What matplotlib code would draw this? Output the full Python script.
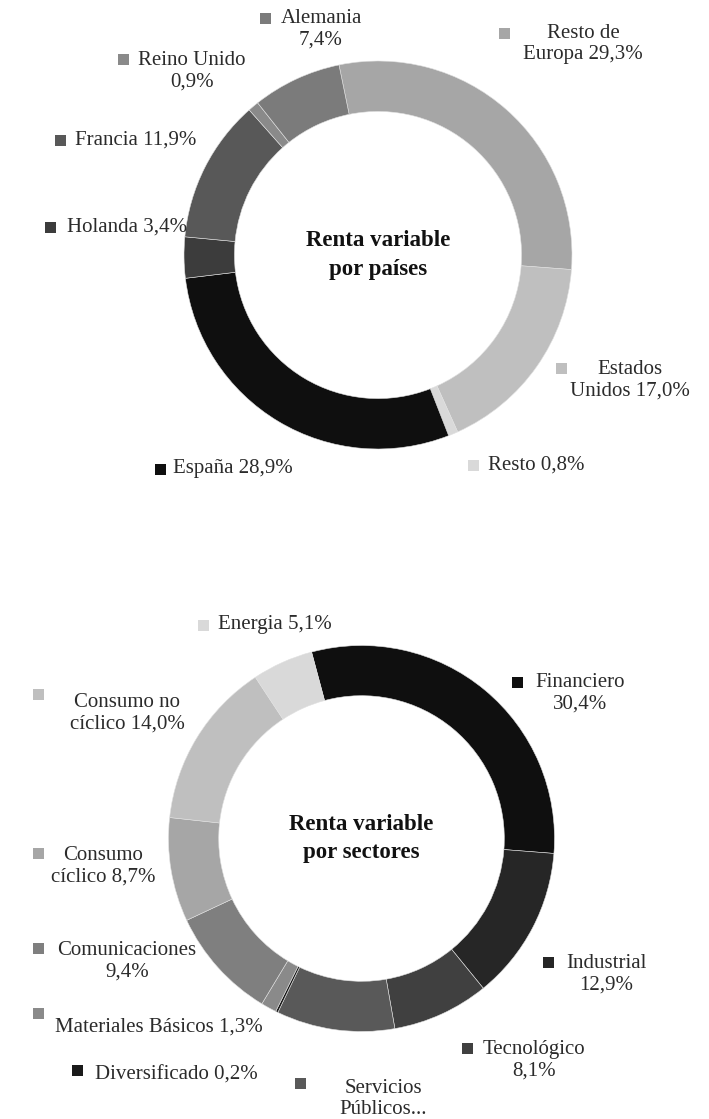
import matplotlib.pyplot as plt
from matplotlib.patches import Rectangle

plt.rcParams['font.family'] = ['Liberation Serif', 'DejaVu Serif']

# --- data: equity by country (clockwise from the top) ---
countries = ["Resto de Europa", "Estados Unidos", "Resto", "España",
             "Holanda", "Francia", "Reino Unido", "Alemania"]
country_values = [29.3, 17.0, 0.8, 28.9, 3.4, 11.9, 0.9, 7.4]
country_labels = ["Resto de\nEuropa 29,3%", "Estados\nUnidos 17,0%", "Resto 0,8%",
                  "España 28,9%", "Holanda 3,4%", "Francia 11,9%",
                  "Reino Unido\n0,9%", "Alemania\n7,4%"]
country_colors = ["#a6a6a6", "#bfbfbf", "#d9d9d9", "#0f0f0f",
                  "#3c3c3c", "#585858", "#8a8a8a", "#7b7b7b"]

# --- data: equity by sector (clockwise from the top) ---
sectors = ["Financiero", "Industrial", "Tecnológico", "Servicios Públicos",
           "Diversificado", "Materiales Básicos", "Comunicaciones",
           "Consumo cíclico", "Consumo no cíclico", "Energia"]
sector_values = [30.4, 12.9, 8.1, 9.9, 0.2, 1.3, 9.4, 8.7, 14.0, 5.1]
sector_labels = ["Financiero\n30,4%", "Industrial\n12,9%", "Tecnológico\n8,1%",
                 "Servicios\nPúblicos...", "Diversificado 0,2%",
                 "Materiales Básicos 1,3%", "Comunicaciones\n9,4%",
                 "Consumo\ncíclico 8,7%", "Consumo no\ncíclico 14,0%",
                 "Energia 5,1%"]
sector_colors = ["#0f0f0f", "#262626", "#404040", "#595959", "#1a1a1a",
                 "#8a8a8a", "#7f7f7f", "#a6a6a6", "#bfbfbf", "#d9d9d9"]

# label layout in pixels: (marker x, marker y, text x, text y, ha)
country_pos = [(504, 33, 583, 44, "center"), (561, 368, 630, 380, "center"),
               (473, 465, 488, 465, "left"), (160, 469, 173, 469, "left"),
               (50, 227, 67, 227, "left"), (60, 140, 75, 140, "left"),
               (123, 59, 192, 71, "center"), (265, 18, 321, 29, "center")]
sector_pos = [(517, 682, 580, 693, "center"), (548, 962, 606, 974, "center"),
              (467, 1048, 534, 1060, "center"), (300, 1083, 383, 1099, "center"),
              (77, 1070, 95, 1075, "left"), (38, 1013, 55, 1027, "left"),
              (38, 948, 127, 961, "center"), (38, 853, 103, 866, "center"),
              (38, 694, 127, 713, "center"), (203, 625, 218, 625, "left")]

W, H = 709, 1119
fig = plt.figure(figsize=(W / 100, H / 100), dpi=100)


def donut(cx, cy, r, values, colors, start, title):
    ax = fig.add_axes([(cx - r) / W, (H - cy - r) / H, 2 * r / W, 2 * r / H])
    ax.pie(values, colors=colors, startangle=start, counterclock=False,
           radius=1, wedgeprops=dict(width=0.26, edgecolor="#e0e0e0", linewidth=0.4))
    ax.set_xlim(-1, 1)
    ax.set_ylim(-1, 1)
    ax.set_aspect("equal")
    ax.axis("off")
    ax.text(0, 0, title, ha="center", va="center", fontsize=16.5,
            fontweight="bold", color="#111111", linespacing=1.45)


donut(378, 255, 194, country_values, country_colors, 101.6, "Renta variable\npor países")
donut(361.5, 838.5, 193, sector_values, sector_colors, 105, "Renta variable\npor sectores")

# overlay in pixel coordinates for the legend-style labels
lay = fig.add_axes([0, 0, 1, 1])
lay.set_xlim(0, W)
lay.set_ylim(H, 0)
lay.axis("off")
lay.patch.set_alpha(0)

for labels, colors, pos in [(country_labels, country_colors, country_pos),
                            (sector_labels, sector_colors, sector_pos)]:
    for lab, col, (mx, my, tx, ty, ha) in zip(labels, colors, pos):
        lay.add_patch(Rectangle((mx - 5.5, my - 5.5), 11, 11, color=col, lw=0))
        lay.text(tx, ty, lab, ha=ha, va="center", fontsize=15, color="#2b2b2b",
                 multialignment="center", linespacing=1.2)

fig.savefig("out.png", dpi=100)
